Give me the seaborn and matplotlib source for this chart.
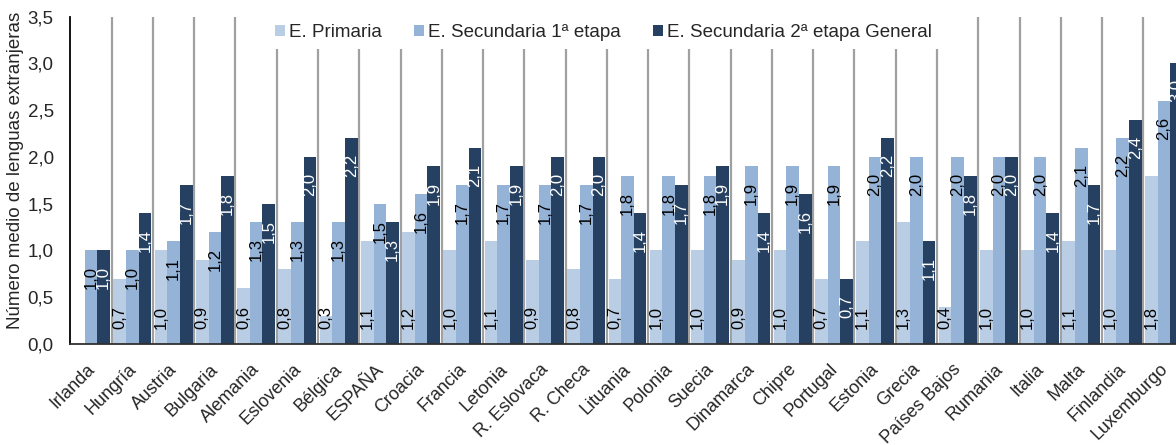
import numpy as np
import pandas as pd
import seaborn as sns
import matplotlib.pyplot as plt
import matplotlib.transforms as mtransforms
from matplotlib.ticker import FuncFormatter

paises = ["Irlanda", "Hungría", "Austria", "Bulgaria", "Alemania", "Eslovenia", "Bélgica",
          "ESPAÑA", "Croacia", "Francia", "Letonia", "R. Eslovaca", "R. Checa", "Lituania",
          "Polonia", "Suecia", "Dinamarca", "Chipre", "Portugal", "Estonia", "Grecia",
          "Países Bajos", "Rumania", "Italia", "Malta", "Finlandia", "Luxemburgo"]

primaria = [np.nan, 0.7, 1.0, 0.9, 0.6, 0.8, 0.3, 1.1, 1.2, 1.0, 1.1, 0.9, 0.8, 0.7,
            1.0, 1.0, 0.9, 1.0, 0.7, 1.1, 1.3, 0.4, 1.0, 1.0, 1.1, 1.0, 1.8]
secundaria_1 = [1.0, 1.0, 1.1, 1.2, 1.3, 1.3, 1.3, 1.5, 1.6, 1.7, 1.7, 1.7, 1.7, 1.8,
                1.8, 1.8, 1.9, 1.9, 1.9, 2.0, 2.0, 2.0, 2.0, 2.0, 2.1, 2.2, 2.6]
secundaria_2 = [1.0, 1.4, 1.7, 1.8, 1.5, 2.0, 2.2, 1.3, 1.9, 2.1, 1.9, 2.0, 2.0, 1.4,
                1.7, 1.9, 1.4, 1.6, 0.7, 2.2, 1.1, 1.8, 2.0, 1.4, 1.7, 2.4, 3.0]

niveles = ["E. Primaria", "E. Secundaria 1ª etapa", "E. Secundaria 2ª etapa General"]
colores = ["#B9CDE5", "#95B3D7", "#254061"]
color_etiqueta = ["black", "black", "white"]

df = pd.DataFrame({"pais": paises * 3,
                   "nivel": np.repeat(niveles, len(paises)),
                   "valor": primaria + secundaria_1 + secundaria_2})

sns.set_style("white")
plt.rcParams["font.family"] = ["Liberation Sans", "DejaVu Sans"]

fig = plt.figure(figsize=(11.76, 4.45), dpi=100)
ax = fig.add_axes([70.4 / 1176, (445 - 344) / 445, (1184.6 - 70.4) / 1176, (344 - 16.7) / 445])

sns.barplot(data=df, x="pais", y="valor", hue="nivel", order=paises, hue_order=niveles,
            palette=colores, saturation=1, width=0.92, errorbar=None, linewidth=0, ax=ax)

# etiquetas de valor (giradas 90 grados)
for j, cont in enumerate(ax.containers):
    for p in cont.patches:
        h = p.get_height()
        if np.isnan(h) or h == 0:
            continue
        x = p.get_x() + p.get_width() / 2
        txt = f"{h:.1f}".replace(".", ",")
        if j == 0:
            ax.annotate(txt, (x, 0), xytext=(0, 10.5), textcoords="offset points",
                        rotation=90, ha="center", va="bottom", fontsize=12,
                        color=color_etiqueta[j])
        else:
            ax.annotate(txt, (x, h), xytext=(0, -11.5), textcoords="offset points",
                        rotation=90, ha="center", va="top", fontsize=12,
                        color=color_etiqueta[j])

ax.set_ylim(0, 3.5)
ax.set_xlim(-0.5, len(paises) - 0.5)
ax.set_yticks(np.arange(0, 3.51, 0.5))
ax.yaxis.set_major_formatter(FuncFormatter(lambda v, _: f"{v:.1f}".replace(".", ",")))
ax.tick_params(axis="y", length=0, pad=12, labelsize=13.5)
ax.tick_params(axis="x", length=0, pad=12, labelsize=13)
desplaza = mtransforms.ScaledTranslation(-5 / 100, 0, fig.dpi_scale_trans)
for lbl in ax.get_xticklabels():
    lbl.set_rotation(45)
    lbl.set_ha("right")
    lbl.set_va("top")
    lbl.set_rotation_mode("anchor")
    lbl.set_transform(lbl.get_transform() + desplaza)
ax.set_xlabel("")
ax.set_ylabel("Número medio de lenguas extranjeras", fontsize=13.5)
ax.yaxis.set_label_coords(-0.042, 0.529)

# lineas verticales entre paises
ax.set_xticks(np.arange(0.5, len(paises) - 1), minor=True)
ax.grid(which="minor", axis="x", color="#A0A0A0", linewidth=1.6)
ax.grid(which="major", visible=False)
ax.set_axisbelow(True)

for s in ["top", "right"]:
    ax.spines[s].set_visible(False)
ax.spines["left"].set_color("black")
ax.spines["left"].set_linewidth(1.3)
ax.spines["bottom"].set_color("#303030")
ax.spines["bottom"].set_linewidth(1.3)

ax.legend(loc="upper left", bbox_to_anchor=(0.177, 1.0), ncol=3, frameon=True,
          facecolor="white", edgecolor="none", framealpha=1, fancybox=False,
          borderaxespad=0, borderpad=0.4, handlelength=0.55, handleheight=0.55,
          handletextpad=0.2, columnspacing=1.7, fontsize=13.5)

fig.savefig("out.png", dpi=100)
